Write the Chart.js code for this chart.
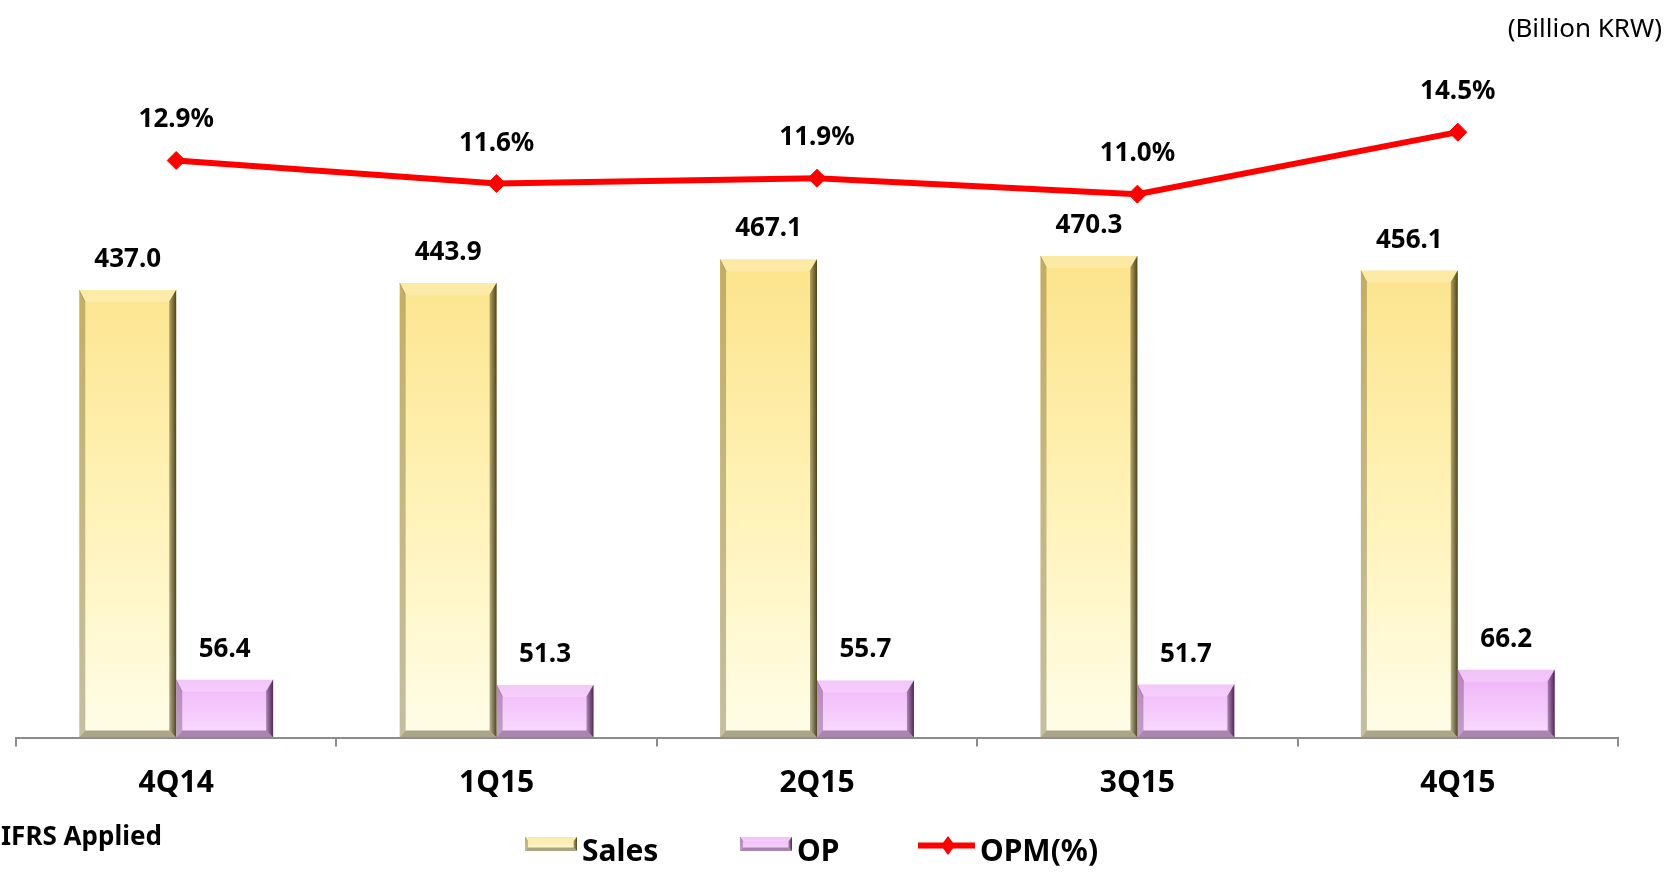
<!DOCTYPE html>
<html>
<head>
<meta charset="utf-8">
<title>Sales / OP / OPM</title>
<script src="https://cdn.jsdelivr.net/npm/chart.js@4.4.1/dist/chart.umd.min.js"></script>
<style>
  body { margin: 0; background: #fff; }
  #wrap { position: relative; width: 1675px; height: 874px; }
</style>
</head>
<body>
<div id="wrap"><canvas id="myChart"></canvas></div>
<script>
// data
const categories = ['4Q14', '1Q15', '2Q15', '3Q15', '4Q15'];
const salesValues = [437.0, 443.9, 467.1, 470.3, 456.1];
const opValues = [56.4, 51.3, 55.7, 51.7, 66.2];
const opmValues = [12.9, 11.6, 11.9, 11.0, 14.5];
const seriesNames = ['Sales', 'OP', 'OPM(%)'];

const fontFam = "'Noto Sans', sans-serif";

// colores de las barras (arriba, medio, abajo) y tono para el bisel
const salesColors = ['#FCE38A', '#FFF2B6', '#FFFDE8'];
const opColors = ['#EEB0F7', '#F4C6FB', '#F9DCFE'];
const salesTint = '70,60,20';
const opTint = '70,30,80';

function barGradient(context, colors, topValue) {
    const chart = context.chart;
    const area = chart.chartArea;
    if (!area) return colors[0];
    const yTop = chart.scales.y.getPixelForValue(topValue);
    const g = chart.ctx.createLinearGradient(0, yTop, 0, area.bottom);
    g.addColorStop(0, colors[0]);
    g.addColorStop(0.5, colors[1]);
    g.addColorStop(1, colors[2]);
    return g;
}

function poly(ctx, pts, fill) {
    ctx.beginPath();
    ctx.moveTo(pts[0][0], pts[0][1]);
    for (let i = 1; i < pts.length; i++) ctx.lineTo(pts[i][0], pts[i][1]);
    ctx.closePath();
    ctx.fillStyle = fill;
    ctx.fill();
}

// bisel tipo "PowerPoint" encima de cada barra
function drawBevel(ctx, l, t, r, b, tint, s) {
    const bt = Math.min(12 * s, (b - t) / 3);
    const bl = 6 * s, br = 7 * s, bb = 7 * s;
    poly(ctx, [[l, t], [r, t], [r - br, t + bt], [l + bl, t + bt]], 'rgba(255,255,255,0.22)');
    poly(ctx, [[l, t], [l + bl, t + bt], [l + bl, b - bb], [l, b]], `rgba(${tint},0.32)`);
    poly(ctx, [[l, b], [l + bl, b - bb], [r - br, b - bb], [r, b]], `rgba(${tint},0.45)`);
    const g = ctx.createLinearGradient(r - br, 0, r, 0);
    g.addColorStop(0, `rgba(${tint},0.40)`);
    g.addColorStop(1, `rgba(${tint},0.95)`);
    poly(ctx, [[r, t], [r - br, t + bt], [r - br, b - bb], [r, b]], g);
    // lineas diagonales de las esquinas
    ctx.strokeStyle = `rgba(${tint},0.25)`;
    ctx.lineWidth = 1;
    ctx.beginPath();
    ctx.moveTo(l, t); ctx.lineTo(l + bl, t + bt);
    ctx.moveTo(r, t); ctx.lineTo(r - br, t + bt);
    ctx.stroke();
}

const bevelPlugin = {
    id: 'bevel',
    afterDatasetDraw(chart, args) {
        const ds = chart.data.datasets[args.index];
        if (ds.type !== 'bar') return;
        const ctx = chart.ctx;
        ctx.save();
        args.meta.data.forEach((el) => {
            const p = el.getProps(['x', 'y', 'base', 'width'], true);
            drawBevel(ctx, p.x - p.width / 2, p.y, p.x + p.width / 2, p.base, ds.bevelTint, 1);
        });
        ctx.restore();
    }
};

const labelsPlugin = {
    id: 'valueLabels',
    afterDatasetsDraw(chart) {
        const ctx = chart.ctx;
        ctx.save();
        ctx.font = 'bold 26px ' + fontFam;
        ctx.fillStyle = '#000';
        ctx.textAlign = 'center';
        ctx.textBaseline = 'alphabetic';
        chart.data.datasets.forEach((ds, i) => {
            const meta = chart.getDatasetMeta(i);
            meta.data.forEach((el, j) => {
                const isLine = ds.type === 'line';
                const txt = ds.data[j].toFixed(1) + (isLine ? '%' : '');
                ctx.fillText(txt, el.x, el.y - (isLine ? 33 : 23));
            });
        });
        ctx.restore();
    }
};

// leyenda y notas dibujadas a mano
const legendPos = [{ mark: 525, text: 582 }, { mark: 740, text: 797 }, { mark: 918, text: 980 }];

const legendPlugin = {
    id: 'customLegend',
    afterDraw(chart) {
        const ctx = chart.ctx;
        const ds = chart.data.datasets;
        ctx.save();
        ctx.fillStyle = '#000';
        ctx.textBaseline = 'alphabetic';

        ctx.font = '26px ' + fontFam;
        ctx.textAlign = 'right';
        ctx.fillText('(Billion KRW)', 1662, 37);

        ctx.font = 'bold 26px ' + fontFam;
        ctx.textAlign = 'left';
        ctx.fillText('IFRS Applied', 1, 845);

        ctx.font = 'bold 30px ' + fontFam;
        ds.forEach((d, i) => {
            const x = legendPos[i].mark;
            if (d.type === 'bar') {
                const g = ctx.createLinearGradient(0, 837, 0, 851);
                g.addColorStop(0, d.legendColors[0]);
                g.addColorStop(1, d.legendColors[2]);
                ctx.fillStyle = g;
                ctx.fillRect(x, 837, 52, 14);
                drawBevel(ctx, x, 837, x + 52, 851, d.bevelTint, 0.5);
            } else {
                ctx.strokeStyle = d.borderColor;
                ctx.lineWidth = 6;
                ctx.beginPath();
                ctx.moveTo(x, 845.5);
                ctx.lineTo(x + 57, 845.5);
                ctx.stroke();
                poly(ctx, [[x + 30, 836], [x + 37, 845.5], [x + 30, 855], [x + 23, 845.5]], d.borderColor);
            }
            ctx.fillStyle = '#000';
            ctx.fillText(d.label, legendPos[i].text, 861);
        });
        ctx.restore();
    }
};

const grafico = document.getElementById('myChart').getContext('2d');
const graficoNuevo = new Chart(grafico, {
    data: {
        labels: categories,
        datasets: [
            {
                type: 'bar',
                label: seriesNames[0],
                data: salesValues,
                yAxisID: 'y',
                backgroundColor: (c) => barGradient(c, salesColors, 470),
                legendColors: salesColors,
                bevelTint: salesTint,
                borderWidth: 0,
                categoryPercentage: 0.605,
                barPercentage: 1,
                order: 1
            },
            {
                type: 'bar',
                label: seriesNames[1],
                data: opValues,
                yAxisID: 'y',
                backgroundColor: (c) => barGradient(c, opColors, 66),
                legendColors: opColors,
                bevelTint: opTint,
                borderWidth: 0,
                categoryPercentage: 0.605,
                barPercentage: 1,
                order: 1
            },
            {
                type: 'line',
                label: seriesNames[2],
                data: opmValues,
                yAxisID: 'y1',
                borderColor: '#FF0000',
                backgroundColor: '#FF0000',
                borderWidth: 6,
                pointStyle: 'rectRot',
                pointRadius: 9,
                pointBorderWidth: 1,
                pointBackgroundColor: '#FF0000',
                pointBorderColor: '#FF0000',
                tension: 0,
                order: 0
            }
        ]
    },
    options: {
        responsive: true,
        maintainAspectRatio: false,
        animation: false,
        layout: { padding: { left: 16, right: 57, top: 72, bottom: 0 } },
        plugins: {
            legend: { display: false },
            tooltip: { enabled: false }
        },
        scales: {
            x: {
                offset: true,
                grid: {
                    display: true,
                    drawOnChartArea: false,
                    drawTicks: true,
                    tickLength: 9,
                    color: '#8c8c8c',
                    lineWidth: 2,
                    offset: true
                },
                border: { display: true, color: '#8c8c8c', width: 2 },
                ticks: {
                    color: '#000',
                    font: { family: fontFam, size: 30, weight: 'bold' },
                    padding: 19,
                    maxRotation: 0
                },
                afterFit: (scale) => { scale.height = 136.5; }
            },
            y: { display: false, min: 0, max: 650 },
            y1: { display: false, min: -19.7, max: 17.9 }
        }
    },
    plugins: [bevelPlugin, labelsPlugin, legendPlugin]
});
</script>
</body>
</html>
